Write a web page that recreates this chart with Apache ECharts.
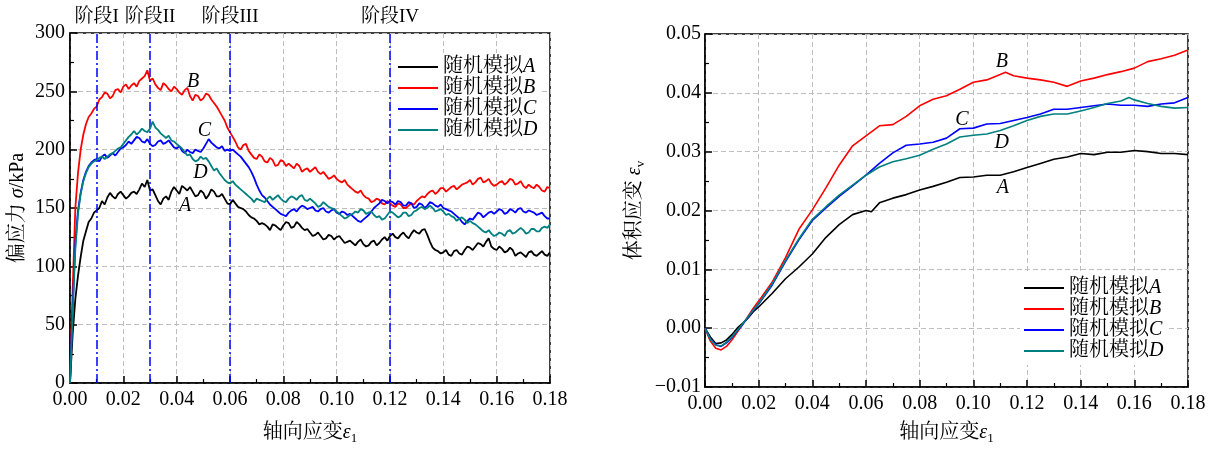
<!DOCTYPE html>
<html><head><meta charset="utf-8">
<script src="https://cdn.jsdelivr.net/npm/echarts@6/dist/echarts.min.js"></script>
<style>html,body{margin:0;padding:0;background:#fff}#c{width:1215px;height:450px}</style>
</head><body><div id="c"></div>
<script>
// ---- data (strain, value) ----
const seriesNames = ['随机模拟A','随机模拟B','随机模拟C','随机模拟D'];
const seriesLetters = ['A','B','C','D'];
const stageStrains = [0.01, 0.03, 0.06, 0.12];
const stageLabels = ['阶段I','阶段II','阶段III','阶段IV'];

// Deviator stress (kPa) vs axial strain
const stressA = [[0,0],[0.001,42],[0.002,72],[0.003,92],[0.004,108],[0.005,122],[0.006,130],[0.007,138],[0.008,141],[0.009,146],[0.010,148],[0.011,150],[0.012,156],[0.013,153],[0.014,159],[0.015,163],[0.016,160],[0.017,158],[0.018,162],[0.019,164],[0.020,161],[0.021,158],[0.022,160],[0.023,163],[0.024,164],[0.025,162],[0.026,166],[0.027,171],[0.028,168],[0.029,174],[0.030,165],[0.031,166],[0.032,161],[0.033,156],[0.034,153],[0.035,158],[0.036,160],[0.037,157],[0.038,164],[0.039,168],[0.040,165],[0.041,162],[0.042,169],[0.043,167],[0.044,165],[0.045,168],[0.046,164],[0.047,160],[0.048,161],[0.049,165],[0.050,163],[0.051,158],[0.052,161],[0.053,166],[0.054,164],[0.055,160],[0.056,160],[0.057,162],[0.058,158],[0.059,154],[0.060,153],[0.061,157],[0.062,154],[0.063,151],[0.064,150],[0.065,149],[0.066,147],[0.067,144],[0.068,142],[0.069,141],[0.070,139],[0.071,136],[0.072,137],[0.073,136],[0.074,134],[0.075,131],[0.076,136],[0.077,135],[0.078,133],[0.079,131],[0.080,135],[0.081,138],[0.082,137],[0.083,133],[0.084,134],[0.085,138],[0.086,136],[0.087,133],[0.088,131],[0.089,132],[0.090,129],[0.091,126],[0.092,127],[0.093,129],[0.094,126],[0.095,123],[0.096,124],[0.097,127],[0.098,126],[0.099,123],[0.100,125],[0.101,126],[0.102,123],[0.103,120],[0.104,121],[0.105,122],[0.106,120],[0.107,118],[0.108,121],[0.109,123],[0.110,119],[0.111,117],[0.112,118],[0.113,121],[0.114,122],[0.115,118],[0.116,120],[0.117,123],[0.118,125],[0.119,122],[0.120,126],[0.121,128],[0.122,125],[0.123,124],[0.124,127],[0.125,129],[0.126,126],[0.127,124],[0.128,128],[0.129,131],[0.130,129],[0.131,128],[0.132,131],[0.133,132],[0.134,127],[0.135,121],[0.136,116],[0.137,114],[0.138,113],[0.139,111],[0.140,112],[0.141,114],[0.142,110],[0.143,109],[0.144,113],[0.145,114],[0.146,111],[0.147,110],[0.148,114],[0.149,117],[0.150,116],[0.151,114],[0.152,117],[0.153,120],[0.154,119],[0.155,117],[0.156,121],[0.157,124],[0.158,117],[0.159,115],[0.160,114],[0.161,117],[0.162,115],[0.163,112],[0.164,113],[0.165,116],[0.166,114],[0.167,109],[0.168,111],[0.169,112],[0.170,110],[0.171,108],[0.172,112],[0.173,113],[0.174,110],[0.175,109],[0.176,111],[0.177,113],[0.178,110],[0.179,109],[0.180,112]];
const stressB = [[0,0],[0.001,80],[0.002,150],[0.003,180],[0.004,200],[0.005,213],[0.006,222],[0.007,228],[0.008,231],[0.009,235],[0.010,237],[0.011,243],[0.012,245],[0.013,249],[0.014,248],[0.015,244],[0.016,246],[0.017,251],[0.018,252],[0.019,249],[0.020,254],[0.021,256],[0.022,252],[0.023,255],[0.024,257],[0.025,254],[0.026,259],[0.027,261],[0.028,263],[0.029,268],[0.030,259],[0.031,261],[0.032,256],[0.033,253],[0.034,251],[0.035,257],[0.036,255],[0.037,252],[0.038,250],[0.039,254],[0.040,252],[0.041,249],[0.042,247],[0.043,251],[0.044,253],[0.045,246],[0.046,242],[0.047,247],[0.048,246],[0.049,242],[0.050,244],[0.051,248],[0.052,247],[0.053,243],[0.054,240],[0.055,237],[0.056,233],[0.057,229],[0.058,225],[0.059,219],[0.060,215],[0.061,211],[0.062,207],[0.063,202],[0.064,200],[0.065,204],[0.066,205],[0.067,199],[0.068,196],[0.069,193],[0.070,192],[0.071,196],[0.072,194],[0.073,190],[0.074,189],[0.075,193],[0.076,191],[0.077,186],[0.078,187],[0.079,191],[0.080,190],[0.081,186],[0.082,188],[0.083,186],[0.084,184],[0.085,188],[0.086,186],[0.087,181],[0.088,183],[0.089,184],[0.090,181],[0.091,183],[0.092,185],[0.093,181],[0.094,179],[0.095,181],[0.096,178],[0.097,175],[0.098,176],[0.099,178],[0.100,175],[0.101,173],[0.102,172],[0.103,174],[0.104,170],[0.105,168],[0.106,166],[0.107,164],[0.108,163],[0.109,165],[0.110,161],[0.111,159],[0.112,158],[0.113,155],[0.114,156],[0.115,158],[0.116,157],[0.117,154],[0.118,153],[0.119,156],[0.120,154],[0.121,152],[0.122,151],[0.123,154],[0.124,153],[0.125,150],[0.126,150],[0.127,152],[0.128,154],[0.129,153],[0.130,156],[0.131,158],[0.132,160],[0.133,159],[0.134,162],[0.135,164],[0.136,165],[0.137,162],[0.138,164],[0.139,167],[0.140,167],[0.141,164],[0.142,166],[0.143,168],[0.144,169],[0.145,166],[0.146,168],[0.147,170],[0.148,171],[0.149,172],[0.150,174],[0.151,170],[0.152,172],[0.153,175],[0.154,176],[0.155,172],[0.156,173],[0.157,175],[0.158,171],[0.159,169],[0.160,170],[0.161,172],[0.162,173],[0.163,170],[0.164,172],[0.165,175],[0.166,174],[0.167,170],[0.168,171],[0.169,173],[0.170,169],[0.171,167],[0.172,170],[0.173,168],[0.174,167],[0.175,170],[0.176,168],[0.177,165],[0.178,164],[0.179,168],[0.180,167]];
const stressC = [[0,0],[0.001,65],[0.002,120],[0.003,148],[0.004,163],[0.005,174],[0.006,181],[0.007,186],[0.008,189],[0.009,191],[0.010,192],[0.011,190],[0.012,194],[0.013,196],[0.014,193],[0.015,195],[0.016,197],[0.017,195],[0.018,198],[0.019,201],[0.020,202],[0.021,204],[0.022,207],[0.023,205],[0.024,208],[0.025,211],[0.026,210],[0.027,207],[0.028,206],[0.029,209],[0.030,205],[0.031,203],[0.032,204],[0.033,207],[0.034,208],[0.035,205],[0.036,206],[0.037,208],[0.038,205],[0.039,202],[0.040,201],[0.041,203],[0.042,199],[0.043,197],[0.044,200],[0.045,198],[0.046,197],[0.047,200],[0.048,199],[0.049,198],[0.050,201],[0.051,205],[0.052,209],[0.053,206],[0.054,204],[0.055,202],[0.056,201],[0.057,203],[0.058,199],[0.059,200],[0.060,199],[0.061,200],[0.062,198],[0.063,196],[0.064,194],[0.065,191],[0.066,188],[0.067,185],[0.068,181],[0.069,176],[0.070,170],[0.071,165],[0.072,161],[0.073,159],[0.074,156],[0.075,153],[0.076,151],[0.077,149],[0.078,147],[0.079,145],[0.080,144],[0.081,143],[0.082,146],[0.083,148],[0.084,149],[0.085,147],[0.086,150],[0.087,152],[0.088,151],[0.089,149],[0.090,150],[0.091,151],[0.092,148],[0.093,147],[0.094,149],[0.095,150],[0.096,147],[0.097,146],[0.098,148],[0.099,149],[0.100,146],[0.101,145],[0.102,147],[0.103,146],[0.104,144],[0.105,145],[0.106,143],[0.107,141],[0.108,139],[0.109,138],[0.110,140],[0.111,142],[0.112,144],[0.113,147],[0.114,150],[0.115,152],[0.116,154],[0.117,157],[0.118,156],[0.119,154],[0.120,156],[0.121,155],[0.122,153],[0.123,156],[0.124,155],[0.125,152],[0.126,152],[0.127,155],[0.128,154],[0.129,150],[0.130,151],[0.131,154],[0.132,153],[0.133,150],[0.134,152],[0.135,155],[0.136,154],[0.137,152],[0.138,151],[0.139,153],[0.140,150],[0.141,149],[0.142,148],[0.143,147],[0.144,145],[0.145,143],[0.146,141],[0.147,138],[0.148,136],[0.149,139],[0.150,141],[0.151,140],[0.152,143],[0.153,146],[0.154,145],[0.155,142],[0.156,144],[0.157,146],[0.158,147],[0.159,145],[0.160,147],[0.161,149],[0.162,148],[0.163,145],[0.164,146],[0.165,149],[0.166,148],[0.167,146],[0.168,149],[0.169,150],[0.170,147],[0.171,146],[0.172,148],[0.173,147],[0.174,146],[0.175,144],[0.176,145],[0.177,146],[0.178,143],[0.179,141],[0.180,141]];
const stressD = [[0,0],[0.001,60],[0.002,115],[0.003,145],[0.004,162],[0.005,173],[0.006,180],[0.007,185],[0.008,188],[0.009,190],[0.010,191],[0.011,193],[0.012,194],[0.013,192],[0.014,194],[0.015,196],[0.016,197],[0.017,199],[0.018,201],[0.019,202],[0.020,205],[0.021,208],[0.022,211],[0.023,213],[0.024,216],[0.025,213],[0.026,215],[0.027,218],[0.028,216],[0.029,215],[0.030,218],[0.031,224],[0.032,219],[0.033,217],[0.034,214],[0.035,212],[0.036,210],[0.037,212],[0.038,208],[0.039,207],[0.040,205],[0.041,203],[0.042,201],[0.043,198],[0.044,195],[0.045,196],[0.046,192],[0.047,190],[0.048,191],[0.049,194],[0.050,192],[0.051,193],[0.052,190],[0.053,186],[0.054,182],[0.055,184],[0.056,180],[0.057,177],[0.058,174],[0.059,172],[0.060,171],[0.061,173],[0.062,170],[0.063,168],[0.064,166],[0.065,164],[0.066,162],[0.067,160],[0.068,158],[0.069,155],[0.070,158],[0.071,157],[0.072,156],[0.073,155],[0.074,158],[0.075,160],[0.076,157],[0.077,159],[0.078,161],[0.079,158],[0.080,156],[0.081,155],[0.082,158],[0.083,160],[0.084,159],[0.085,157],[0.086,160],[0.087,161],[0.088,157],[0.089,156],[0.090,158],[0.091,156],[0.092,154],[0.093,151],[0.094,152],[0.095,155],[0.096,153],[0.097,151],[0.098,150],[0.099,149],[0.100,147],[0.101,145],[0.102,143],[0.103,141],[0.104,142],[0.105,144],[0.106,145],[0.107,147],[0.108,146],[0.109,149],[0.110,148],[0.111,145],[0.112,146],[0.113,147],[0.114,144],[0.115,142],[0.116,143],[0.117,140],[0.118,141],[0.119,144],[0.120,147],[0.121,146],[0.122,144],[0.123,142],[0.124,143],[0.125,146],[0.126,146],[0.127,143],[0.128,144],[0.129,147],[0.130,148],[0.131,150],[0.132,151],[0.133,149],[0.134,150],[0.135,152],[0.136,150],[0.137,147],[0.138,148],[0.139,149],[0.140,147],[0.141,144],[0.142,145],[0.143,143],[0.144,142],[0.145,139],[0.146,141],[0.147,142],[0.148,140],[0.149,137],[0.150,139],[0.151,137],[0.152,136],[0.153,134],[0.154,132],[0.155,130],[0.156,129],[0.157,131],[0.158,128],[0.159,126],[0.160,127],[0.161,129],[0.162,128],[0.163,126],[0.164,130],[0.165,131],[0.166,128],[0.167,129],[0.168,131],[0.169,133],[0.170,131],[0.171,128],[0.172,129],[0.173,132],[0.174,132],[0.175,130],[0.176,130],[0.177,133],[0.178,134],[0.179,133],[0.180,136]];

// Volumetric strain vs axial strain
const volA = [[0,0],[0.002,-0.0015],[0.004,-0.0026],[0.006,-0.0025],[0.008,-0.0020],[0.010,-0.0011],[0.012,0.0000],[0.014,0.0008],[0.016,0.0017],[0.018,0.0028],[0.020,0.0036],[0.025,0.0059],[0.030,0.0084],[0.035,0.0104],[0.040,0.0126],[0.045,0.0154],[0.050,0.0176],[0.055,0.0193],[0.060,0.0200],[0.062,0.0198],[0.065,0.0213],[0.070,0.0221],[0.075,0.0227],[0.080,0.0235],[0.085,0.0241],[0.090,0.0248],[0.095,0.0256],[0.100,0.0257],[0.105,0.0260],[0.110,0.0260],[0.115,0.0266],[0.120,0.0273],[0.125,0.0280],[0.130,0.0287],[0.135,0.0291],[0.140,0.0297],[0.145,0.0295],[0.150,0.0299],[0.155,0.0299],[0.160,0.0302],[0.165,0.0300],[0.170,0.0297],[0.175,0.0297],[0.180,0.0295]];
const volB = [[0,0],[0.002,-0.0022],[0.004,-0.0034],[0.006,-0.0037],[0.008,-0.0031],[0.010,-0.0020],[0.012,-0.0007],[0.014,0.0006],[0.016,0.0020],[0.018,0.0034],[0.020,0.0046],[0.025,0.0078],[0.030,0.0120],[0.035,0.0168],[0.040,0.0201],[0.045,0.0238],[0.050,0.0277],[0.055,0.0310],[0.060,0.0327],[0.065,0.0344],[0.070,0.0346],[0.075,0.0360],[0.080,0.0378],[0.085,0.0389],[0.090,0.0395],[0.095,0.0406],[0.100,0.0418],[0.105,0.0422],[0.110,0.0431],[0.112,0.0435],[0.115,0.0429],[0.120,0.0425],[0.125,0.0422],[0.130,0.0418],[0.135,0.0411],[0.140,0.0420],[0.145,0.0425],[0.150,0.0431],[0.155,0.0436],[0.160,0.0442],[0.165,0.0453],[0.170,0.0458],[0.175,0.0464],[0.180,0.0473]];
const volC = [[0,0],[0.002,-0.0018],[0.004,-0.0028],[0.006,-0.0031],[0.008,-0.0025],[0.010,-0.0016],[0.012,-0.0005],[0.014,0.0006],[0.016,0.0018],[0.018,0.0030],[0.020,0.0041],[0.025,0.0073],[0.030,0.0113],[0.035,0.0150],[0.040,0.0183],[0.045,0.0204],[0.050,0.0224],[0.055,0.0242],[0.060,0.0260],[0.065,0.0280],[0.070,0.0298],[0.075,0.0311],[0.080,0.0313],[0.085,0.0316],[0.090,0.0323],[0.095,0.0339],[0.100,0.0340],[0.105,0.0347],[0.110,0.0348],[0.115,0.0353],[0.120,0.0358],[0.125,0.0364],[0.130,0.0372],[0.135,0.0372],[0.140,0.0375],[0.145,0.0378],[0.150,0.0381],[0.155,0.0379],[0.160,0.0379],[0.165,0.0377],[0.170,0.0381],[0.175,0.0383],[0.180,0.0392]];
const volD = [[0,0],[0.002,-0.0019],[0.004,-0.0029],[0.006,-0.0030],[0.008,-0.0024],[0.010,-0.0015],[0.012,-0.0004],[0.014,0.0007],[0.016,0.0019],[0.018,0.0031],[0.020,0.0042],[0.025,0.0075],[0.030,0.0115],[0.035,0.0152],[0.040,0.0185],[0.045,0.0206],[0.050,0.0226],[0.055,0.0243],[0.060,0.0260],[0.065,0.0274],[0.070,0.0283],[0.075,0.0288],[0.080,0.0294],[0.085,0.0304],[0.090,0.0313],[0.095,0.0325],[0.100,0.0328],[0.105,0.0330],[0.110,0.0336],[0.115,0.0344],[0.120,0.0353],[0.125,0.0360],[0.130,0.0364],[0.135,0.0364],[0.140,0.0369],[0.145,0.0375],[0.150,0.0382],[0.155,0.0386],[0.158,0.0392],[0.160,0.0388],[0.165,0.0382],[0.170,0.0377],[0.175,0.0374],[0.180,0.0375]];

const colors = ['#000000','#ff0000','#0000ff','#008080'];
const FS = 20;
const SERIF = '"Liberation Serif","Times New Roman","Noto Serif CJK SC","Noto Sans CJK SC",serif';

const chart = echarts.init(document.getElementById('c'), null, {renderer:'canvas'});

const richText = {
  t:{fontFamily:SERIF,fontSize:FS,color:'#000',lineHeight:24},
  i:{fontFamily:SERIF,fontSize:FS,fontStyle:'italic',color:'#000',lineHeight:24},
  s:{fontFamily:SERIF,fontSize:13,color:'#000',lineHeight:13,verticalAlign:'bottom'}
};

function xAxisCfg(gridIndex, gap){
  return {
    type:'value', gridIndex, min:0, max:0.18, interval:0.02,
    name:'{t|轴向应变}{i|ε}{s|1}', nameLocation:'middle', nameGap:gap,
    nameTextStyle:{rich:richText},
    axisLine:{show:true,onZero:false,lineStyle:{color:'#000',width:1.5}},
    axisTick:{show:true,inside:true,length:7,lineStyle:{color:'#000',width:1.5}},
    minorTick:{show:true,splitNumber:2,length:4,lineStyle:{color:'#000',width:1.2}},
    axisLabel:{fontFamily:SERIF,fontSize:FS,color:'#000',margin:7,formatter:v=>v.toFixed(2)},
    splitLine:{show:true,lineStyle:{color:'#bdbdbd',type:[5,3],width:1}}
  };
}
function yAxisCfg(gridIndex, cfg){
  return Object.assign({
    type:'value', gridIndex, nameLocation:'middle', nameRotate:90,
    nameTextStyle:{rich:richText},
    axisLine:{show:true,onZero:false,lineStyle:{color:'#000',width:1.5}},
    axisTick:{show:true,inside:true,length:7,lineStyle:{color:'#000',width:1.5}},
    minorTick:{show:true,splitNumber:2,length:4,lineStyle:{color:'#000',width:1.2}},
    splitLine:{show:true,lineStyle:{color:'#bdbdbd',type:[5,3],width:1}}
  }, cfg);
}

const stressData = [stressA, stressB, stressC, stressD];
const volData = [volA, volB, volC, volD];

const stressLabelPos = [[0.0432,152],[0.0462,258],[0.0504,216],[0.0489,180]];
const volLabelPos = [[0.1110,0.0238],[0.1106,0.0453],[0.0957,0.0355],[0.1106,0.0316]];

function labelMark(pos, letter){
  return {
    symbol:'circle', symbolSize:1, silent:true,
    itemStyle:{color:'rgba(0,0,0,0)'},
    label:{show:true,position:'inside',formatter:letter,fontFamily:SERIF,fontSize:FS,fontStyle:'italic',color:'#000'},
    data:[{coord:pos}]
  };
}

const series = [];
stressData.forEach((d,k)=>{
  const s = {
    name:seriesNames[k], type:'line', xAxisIndex:0, yAxisIndex:0, data:d,
    showSymbol:false, symbol:'none', lineStyle:{color:colors[k],width:1.8}, itemStyle:{color:colors[k]},
    animation:false, z:2+k,
    markPoint: labelMark(stressLabelPos[k], seriesLetters[k])
  };
  if(k===0){
    s.markLine = {
      silent:true, symbol:'none',
      lineStyle:{color:'#0000ff',type:[9,3,2,3],width:1.5},
      label:{show:true,position:'end',distance:6,fontFamily:SERIF,fontSize:FS-1,color:'#000'},
      data: stageStrains.map((v,i)=>({xAxis:v,label:{formatter:stageLabels[i]}}))
    };
  }
  series.push(s);
});
volData.forEach((d,k)=>{
  series.push({
    name:seriesNames[k], type:'line', xAxisIndex:1, yAxisIndex:1, data:d,
    showSymbol:false, symbol:'none', lineStyle:{color:colors[k],width:1.6}, itemStyle:{color:colors[k]},
    animation:false, z:2+k,
    markPoint: labelMark(volLabelPos[k], seriesLetters[k])
  });
});

function legendCfg(left, top){
  return {
    orient:'vertical', left, top, padding:[4,4,4,4], itemGap:1,
    itemWidth:40, itemHeight:2, icon:'rect', backgroundColor:'#ffffff',
    data:seriesNames,
    selectedMode:false,
    formatter: n => '{t|' + n.slice(0,4) + '}{i|' + n.slice(4) + '}',
    textStyle:{rich:{
      t:{fontFamily:SERIF,fontSize:FS,color:'#000',lineHeight:20},
      i:{fontFamily:SERIF,fontSize:FS,fontStyle:'italic',color:'#000',lineHeight:20}
    }}
  };
}

chart.setOption({
  animation:false,
  backgroundColor:'#fff',
  grid:[
    {left:70,right:665,top:33,bottom:63,show:true,borderColor:'#000',borderWidth:1.5,containLabel:false},
    {left:705,right:27,top:34,bottom:58,show:true,borderColor:'#000',borderWidth:1.5,containLabel:false}
  ],
  xAxis:[xAxisCfg(0,38), xAxisCfg(1,34)],
  yAxis:[
    yAxisCfg(0,{min:0,max:300,interval:50,name:'{t|偏应力 }{i|σ}{t|/kPa}',nameGap:40,
      axisLabel:{fontFamily:SERIF,fontSize:FS,color:'#000',margin:5}}),
    yAxisCfg(1,{min:-0.01,max:0.05,interval:0.01,name:'{t|体积应变 }{i|ε}{s|v}',nameGap:58,
      axisLabel:{fontFamily:SERIF,fontSize:FS,color:'#000',margin:4,
        formatter:v=>{const r=Math.round(v*100)/100; return r<0?'\u2212'+Math.abs(r).toFixed(2):r.toFixed(2);}}})
  ],
  legend:[legendCfg(394,53), legendCfg(1020,274)],
  series
});
</script></body></html>
